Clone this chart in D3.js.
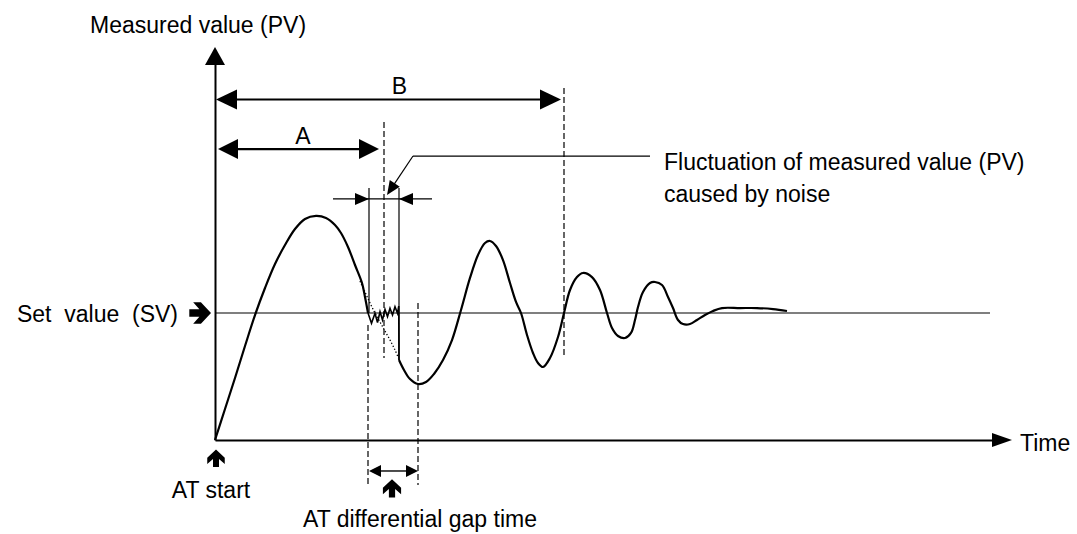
<!DOCTYPE html>
<html>
<head>
<meta charset="utf-8">
<script src="https://cdn.jsdelivr.net/npm/d3@7"></script>
<style>
  html, body { margin: 0; padding: 0; background: #fff; }
  svg text { font-family: "Liberation Sans", Arial, sans-serif; fill: #000; white-space: pre; }
</style>
</head>
<body>
<svg id="chart" width="1077" height="534"></svg>
<script>
// Auto-tuning response: PV rise, noisy crossing, decaying oscillation (time, PV with SV = 100)
const riseTime  = [0, 2, 4, 6, 8, 10, 12, 14, 16, 18, 20.2, 22.2, 24, 25.2, 26.6, 28, 29.4, 30, 30.6];
const riseValue = [0, 24.4, 48.8, 74, 98.4, 119.7, 138.6, 153.5, 166.1, 174, 176.4, 174.8, 169.3, 163, 152, 137.8, 123.6, 112.6, 100];

// Noise riding on the first SV crossing
const noiseTime  = [30.6, 31.3, 32, 32.5, 33, 33.5, 34, 34.5, 35, 35.5, 36, 36.5, 36.75, 36.8];
const noiseValue = [100, 91.9, 99.8, 92.4, 101, 94.5, 102.9, 97.1, 103.7, 98.4, 105, 99.8, 105.5, 63];

// Noise-free path the PV would have followed
const idealTime  = [29, 30, 31, 32, 33, 34, 35, 36, 36.7];
const idealValue = [125.2, 116.5, 107.9, 100, 92.9, 85.8, 78.7, 70.9, 64.6];

// Oscillation after the noise until PV settles at SV
const settleTime  = [36.8, 37.8, 39, 40.6, 42.2, 43.8, 45.6, 47.4, 49.2, 51, 52.6, 54, 55, 56.2, 57.6, 59, 60.2, 61.2, 62.4, 63.6, 64.6, 65.6,
                     67, 68.6, 69.8, 71, 72.4, 73.6, 75.4, 77, 78.4, 79.4, 80.6, 82, 83.2, 84, 84.6, 85.6, 87, 88, 89.4, 90.6, 91.6, 92.6,
                     93.6, 95, 96.4, 98, 99.6, 101.4, 105, 108.4, 111.6, 114.4];
const settleValue = [63, 55.1, 48, 44.1, 45.7, 52, 63, 78.7, 102.4, 127.6, 145.7, 155.1, 156.7, 152.8, 141.7, 123.6, 108.7, 100, 82.7, 68.5, 60.6, 57.5,
                     64.6, 81.1, 100, 118.1, 128.3, 131.5, 128.3, 118.1, 100, 88.2, 81.9, 80.3, 84.3, 94.5, 104.7, 116.5, 123.6, 124.4, 122, 112.6, 103.9, 94.5,
                     91.3, 91.3, 94.5, 98.4, 101.6, 103.9, 103.9, 103.9, 103.1, 101.6];

// Set value and axis extents
const setValue = 100;
const axisTimeEnd = 159.4;
const axisValueTop = 309.5;
const svLineEnd = 155;

// Annotated times
const atStart = 0;
const timeA = 33.8;
const timeB = 69.8;
const gapStart = 30.6, gapEnd = 40.6;
const noiseStart = 30.8, noiseEnd = 36.8;

// Annotation levels (PV units)
const levelB = 268.1, levelA = 229.1, levelNoise = 189.8, levelLeader = 223.6, levelGap = -24.4;

// Text
const yTitle = "Measured value (PV)";
const xTitle = "Time";
const svLabel = "Set  value  (SV)";
const noiseLabel = ["Fluctuation of measured value (PV)", "caused by noise"];
const atStartLabel = "AT start";
const gapLabel = "AT differential gap time";

const svg = d3.select("#chart");
const x = d3.scaleLinear().domain([0, 157]).range([215, 1000]);
const y = d3.scaleLinear().domain([0, 100]).range([440, 313]);
const zip = (ts, vs) => ts.map((t, i) => [t, vs[i]]);

const smooth = d3.line().x(d => x(d[0])).y(d => y(d[1])).curve(d3.curveCatmullRom.alpha(0.5));
const straight = d3.line().x(d => x(d[0])).y(d => y(d[1]));

// Filled triangular arrowhead, tip at (tx,ty), pointing along angle a
function head(g, tx, ty, a, len, half) {
  const c = Math.cos(a), s = Math.sin(a);
  const bx = tx - c * len, by = ty - s * len;
  g.append("path")
    .attr("d", `M${tx},${ty}L${bx - s * half},${by + c * half}L${bx + s * half},${by - c * half}Z`)
    .attr("fill", "#000");
}
// Bold chevron arrow glyph, tip at (tx,ty), pointing along angle in degrees
function boldArrow(g, tx, ty, deg, scale) {
  g.append("path")
    .attr("d", "M-14,-2.4H-7.5L-11.5,-7H-6.5L0,0L-6.5,7H-11.5L-7.5,2.4H-14Z")
    .attr("transform", `translate(${tx},${ty}) rotate(${deg}) scale(${scale})`)
    .attr("fill", "#000");
}

const g = svg.append("g");

// Axes drawn with d3 axes (no ticks) plus arrowheads
const xAxisScale = x.copy().domain([0, axisTimeEnd - 3.5]).range([x(0), x(axisTimeEnd - 3.5)]);
g.append("g").attr("transform", `translate(0,${y(0)})`)
  .call(d3.axisBottom(xAxisScale).ticks(0).tickSizeOuter(0))
  .call(a => a.select(".domain").attr("stroke", "#000").attr("stroke-width", 2));
head(g, x(axisTimeEnd), y(0), 0, 20, 7);

const yAxisScale = y.copy().domain([0, axisValueTop - 12]).range([y(0), y(axisValueTop - 12)]);
g.append("g").attr("transform", `translate(${x(0)},0)`)
  .call(d3.axisLeft(yAxisScale).ticks(0).tickSizeOuter(0))
  .call(a => a.select(".domain").attr("stroke", "#000").attr("stroke-width", 2));
head(g, x(0), y(axisValueTop), -Math.PI / 2, 18, 10);

// Set value line
g.append("line")
  .attr("x1", x(0)).attr("x2", x(svLineEnd))
  .attr("y1", y(setValue)).attr("y2", y(setValue))
  .attr("stroke", "#000").attr("stroke-width", 1.2);

// Dashed reference lines
const dashed = [
  [timeA, 250.4, 64.6],
  [timeB, 277.2, 64.6],
  [gapStart, 90.6, -35.4],
  [gapEnd, 107.9, -35.4]
];
g.selectAll("line.ref").data(dashed).join("line")
  .attr("class", "ref")
  .attr("x1", d => x(d[0])).attr("x2", d => x(d[0]))
  .attr("y1", d => y(d[1])).attr("y2", d => y(d[2]))
  .attr("stroke", "#000").attr("stroke-width", 1.2)
  .attr("stroke-dasharray", "6,3");

// Noise band verticals
g.append("line").attr("x1", x(noiseStart)).attr("x2", x(noiseStart))
  .attr("y1", y(198.4)).attr("y2", y(setValue)).attr("stroke", "#000").attr("stroke-width", 1.2);
g.append("line").attr("x1", x(noiseEnd)).attr("x2", x(noiseEnd))
  .attr("y1", y(198.4)).attr("y2", y(63)).attr("stroke", "#000").attr("stroke-width", 1.2);

// Noise-free path (dotted)
g.append("path").attr("d", smooth(zip(idealTime, idealValue)))
  .attr("fill", "none").attr("stroke", "#000").attr("stroke-width", 1.3)
  .attr("stroke-dasharray", "1.3,2");

// PV curve
g.append("path").attr("d", smooth(zip(riseTime, riseValue)))
  .attr("fill", "none").attr("stroke", "#000").attr("stroke-width", 2.2);
g.append("path").attr("d", straight(zip(noiseTime, noiseValue)))
  .attr("fill", "none").attr("stroke", "#000").attr("stroke-width", 1.6).attr("stroke-linejoin", "miter");
g.append("path").attr("d", smooth(zip(settleTime, settleValue)))
  .attr("fill", "none").attr("stroke", "#000").attr("stroke-width", 2.2);

// Double-headed span arrows A and B
function span(t0, t1, v, len, half, sw) {
  g.append("line").attr("x1", x(t0) + len - 2).attr("x2", x(t1) - len + 2)
    .attr("y1", y(v)).attr("y2", y(v)).attr("stroke", "#000").attr("stroke-width", sw);
  head(g, x(t0), y(v), Math.PI, len, half);
  head(g, x(t1), y(v), 0, len, half);
}
span(0.2, timeB - 0.6, levelB, 21, 10, 2.2);
span(0.6, timeA - 1, levelA, 20, 10, 2.2);
span(gapStart + 0.2, gapEnd, levelGap, 12, 6, 1.4);

// Noise band arrows pointing inward
g.append("line").attr("x1", x(noiseStart - 7.2)).attr("x2", x(noiseEnd + 6.6))
  .attr("y1", y(levelNoise)).attr("y2", y(levelNoise)).attr("stroke", "#000").attr("stroke-width", 1.2);
head(g, x(noiseStart), y(levelNoise), 0, 14, 6);
head(g, x(noiseEnd), y(levelNoise), Math.PI, 14, 6);

// Leader from the label to the noise band
const lx0 = x(39.6), ly0 = y(levelLeader);
const tipX = x(34.4), tipY = y(192.9);
g.append("line").attr("x1", lx0).attr("x2", x(87)).attr("y1", ly0).attr("y2", ly0)
  .attr("stroke", "#000").attr("stroke-width", 1.2);
const ang = Math.atan2(tipY - ly0, tipX - lx0);
g.append("line").attr("x1", lx0).attr("y1", ly0)
  .attr("x2", tipX - Math.cos(ang) * 10).attr("y2", tipY - Math.sin(ang) * 10)
  .attr("stroke", "#000").attr("stroke-width", 1.2);
head(g, tipX, tipY, ang, 14, 6);

// Bold pointer arrows
boldArrow(g, x(0) - 4, y(setValue), 0, 1.55);
boldArrow(g, x(atStart) + 1, y(-7.5), -90, 1.25);
boldArrow(g, x(35.4), y(-31), -90, 1.3);

// Labels
const fs = 23;
const T = (txt, tx, ty, anchor) => g.append("text").attr("x", tx).attr("y", ty)
  .attr("text-anchor", anchor || "start").attr("font-size", fs).text(txt);
T(yTitle, 90, 33);
T(xTitle, 1020, 451);
T("B", x(36.9), y(272.5), "middle");
T("A", x(17.6), y(232.8), "middle");
T(svLabel, 178, 322, "end");
T(noiseLabel[0], 664, 170);
T(noiseLabel[1], 664, 202);
T(atStartLabel, 211, 498, "middle");
T(gapLabel, 303, 527);
</script>
</body>
</html>
